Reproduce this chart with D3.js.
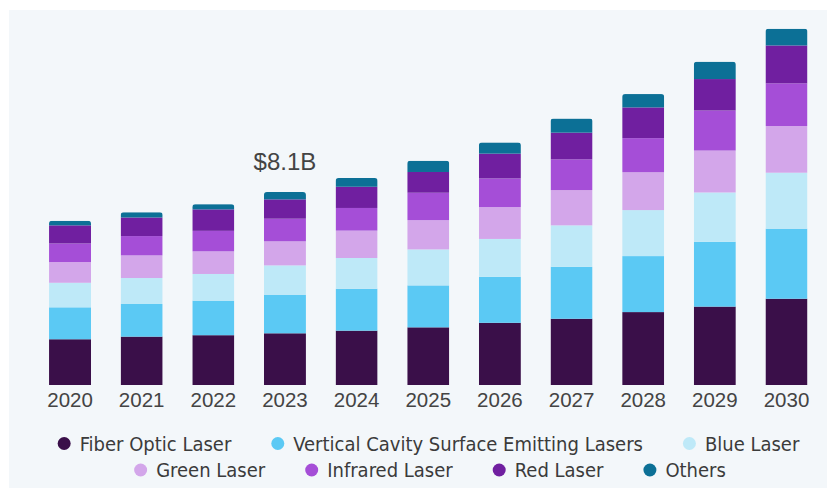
<!DOCTYPE html>
<html>
<head>
<meta charset="utf-8">
<script src="https://cdn.jsdelivr.net/npm/d3@7"></script>
<style>
  body { margin: 0; background: #fff; }
  svg { display: block; }
</style>
</head>
<body>
<svg width="827" height="488"></svg>
<script>
// market size by segment, $B
const years = ["2020", "2021", "2022", "2023", "2024", "2025", "2026", "2027", "2028", "2029", "2030"];
const segments = ["Fiber Optic Laser", "Vertical Cavity Surface Emitting Lasers", "Blue Laser",
  "Green Laser", "Infrared Laser", "Red Laser", "Others"];
const fiberOptic = [1.92, 2.03, 2.09, 2.17, 2.28, 2.42, 2.61, 2.78, 3.06, 3.29, 3.62];
const vcsel      = [1.34, 1.37, 1.45, 1.62, 1.76, 1.76, 1.93, 2.18, 2.35, 2.72, 2.94];
const blueLaser  = [1.03, 1.09, 1.12, 1.23, 1.29, 1.51, 1.59, 1.74, 1.93, 2.07, 2.35];
const greenLaser = [0.87, 0.95, 0.95, 1.01, 1.15, 1.23, 1.34, 1.48, 1.59, 1.76, 1.96];
const infrared   = [0.78, 0.81, 0.86, 0.95, 0.95, 1.15, 1.20, 1.29, 1.43, 1.68, 1.79];
const redLaser   = [0.76, 0.78, 0.90, 0.81, 0.89, 0.87, 1.04, 1.12, 1.29, 1.32, 1.59];
const others     = [0.19, 0.22, 0.22, 0.31, 0.37, 0.47, 0.47, 0.59, 0.56, 0.73, 0.70];
const colors = ["#3a0f49", "#5bc9f4", "#bee9f8", "#d3a6ea", "#a54ed7", "#701fa0", "#0c7096"];
const annotation = {year: "2023", label: "$8.1B"};

const series = [fiberOptic, vcsel, blueLaser, greenLaser, infrared, redLaser, others];
const rows = years.map((y, i) => {
  const row = {year: y};
  segments.forEach((s, k) => { row[s] = series[k][i]; });
  return row;
});

const svg = d3.select("svg");

// light panel behind the chart
svg.append("rect")
  .attr("x", 9).attr("y", 10)
  .attr("width", 818).attr("height", 478)
  .attr("fill", "#f3f7fa");

const x = d3.scaleBand()
  .domain(years)
  .range([34.7, 821.8])
  .paddingInner(0.414)
  .paddingOuter(0.2);

const y = d3.scaleLinear()
  .domain([0, 8.1])
  .range([385, 192]);

const color = d3.scaleOrdinal().domain(segments).range(colors);

const stacked = d3.stack().keys(segments)(rows);

// rounded tops: clip each bar to a rounded rect
const defs = svg.append("defs");
rows.forEach((r, i) => {
  const total = d3.sum(segments, s => r[s]);
  defs.append("clipPath").attr("id", "clip" + i)
    .append("rect")
      .attr("x", x(r.year))
      .attr("y", y(total))
      .attr("width", x.bandwidth())
      .attr("height", y(0) - y(total) + 10)
      .attr("rx", 3);
});

const barsG = svg.append("g");
barsG.selectAll("g")
  .data(stacked)
  .enter()
    .append("g")
    .attr("fill", d => color(d.key))
    .selectAll("rect")
    .data(d => d)
    .enter()
      .append("rect")
      .attr("clip-path", (d, i) => `url(#clip${i})`)
      .attr("x", d => x(d.data.year))
      .attr("y", d => y(d[1]))
      .attr("width", x.bandwidth())
      .attr("height", d => y(d[0]) - y(d[1]));

// year labels
const xAxis = svg.append("g")
  .attr("transform", `translate(0, ${y(0)})`)
  .call(d3.axisBottom(x).tickSize(0).tickPadding(7));
xAxis.select(".domain").remove();
xAxis.selectAll("text")
  .attr("font-family", "'Liberation Sans', Arial, sans-serif")
  .attr("font-size", 20.5)
  .attr("fill", "#444");

// total callout
const annRow = rows.find(r => r.year === annotation.year);
svg.append("text")
  .attr("x", x(annotation.year) + x.bandwidth() / 2)
  .attr("y", y(d3.sum(segments, s => annRow[s])) - 22)
  .attr("text-anchor", "middle")
  .attr("font-family", "'Liberation Sans', Arial, sans-serif")
  .attr("font-size", 24)
  .attr("fill", "#444")
  .text(annotation.label);

// legend, two centred rows
const legendRows = [segments.slice(0, 3), segments.slice(3)];
const legendY = [443.5, 470];
const legendFont = "'Liberation Sans Narrow', 'Arial Narrow', 'DejaVu Sans Condensed', sans-serif";
const gap = 40;
legendRows.forEach((keys, ri) => {
  const g = svg.append("g");
  let cx = 0;
  keys.forEach(k => {
    const item = g.append("g").attr("transform", `translate(${cx}, 0)`);
    item.append("circle")
      .attr("cx", 6.5).attr("cy", legendY[ri])
      .attr("r", 6.5)
      .attr("fill", color(k));
    const t = item.append("text")
      .attr("x", 22)
      .attr("y", legendY[ri] + 7)
      .attr("font-family", legendFont)
      .attr("font-size", 20)
      .attr("fill", "#3b3b3b")
      .text(k);
    cx += 22 + t.node().getComputedTextLength() + gap;
  });
  const w = cx - gap;
  g.attr("transform", `translate(${(ri === 0 ? 428.5 : 430) - w / 2}, 0)`);
});
</script>
</body>
</html>
